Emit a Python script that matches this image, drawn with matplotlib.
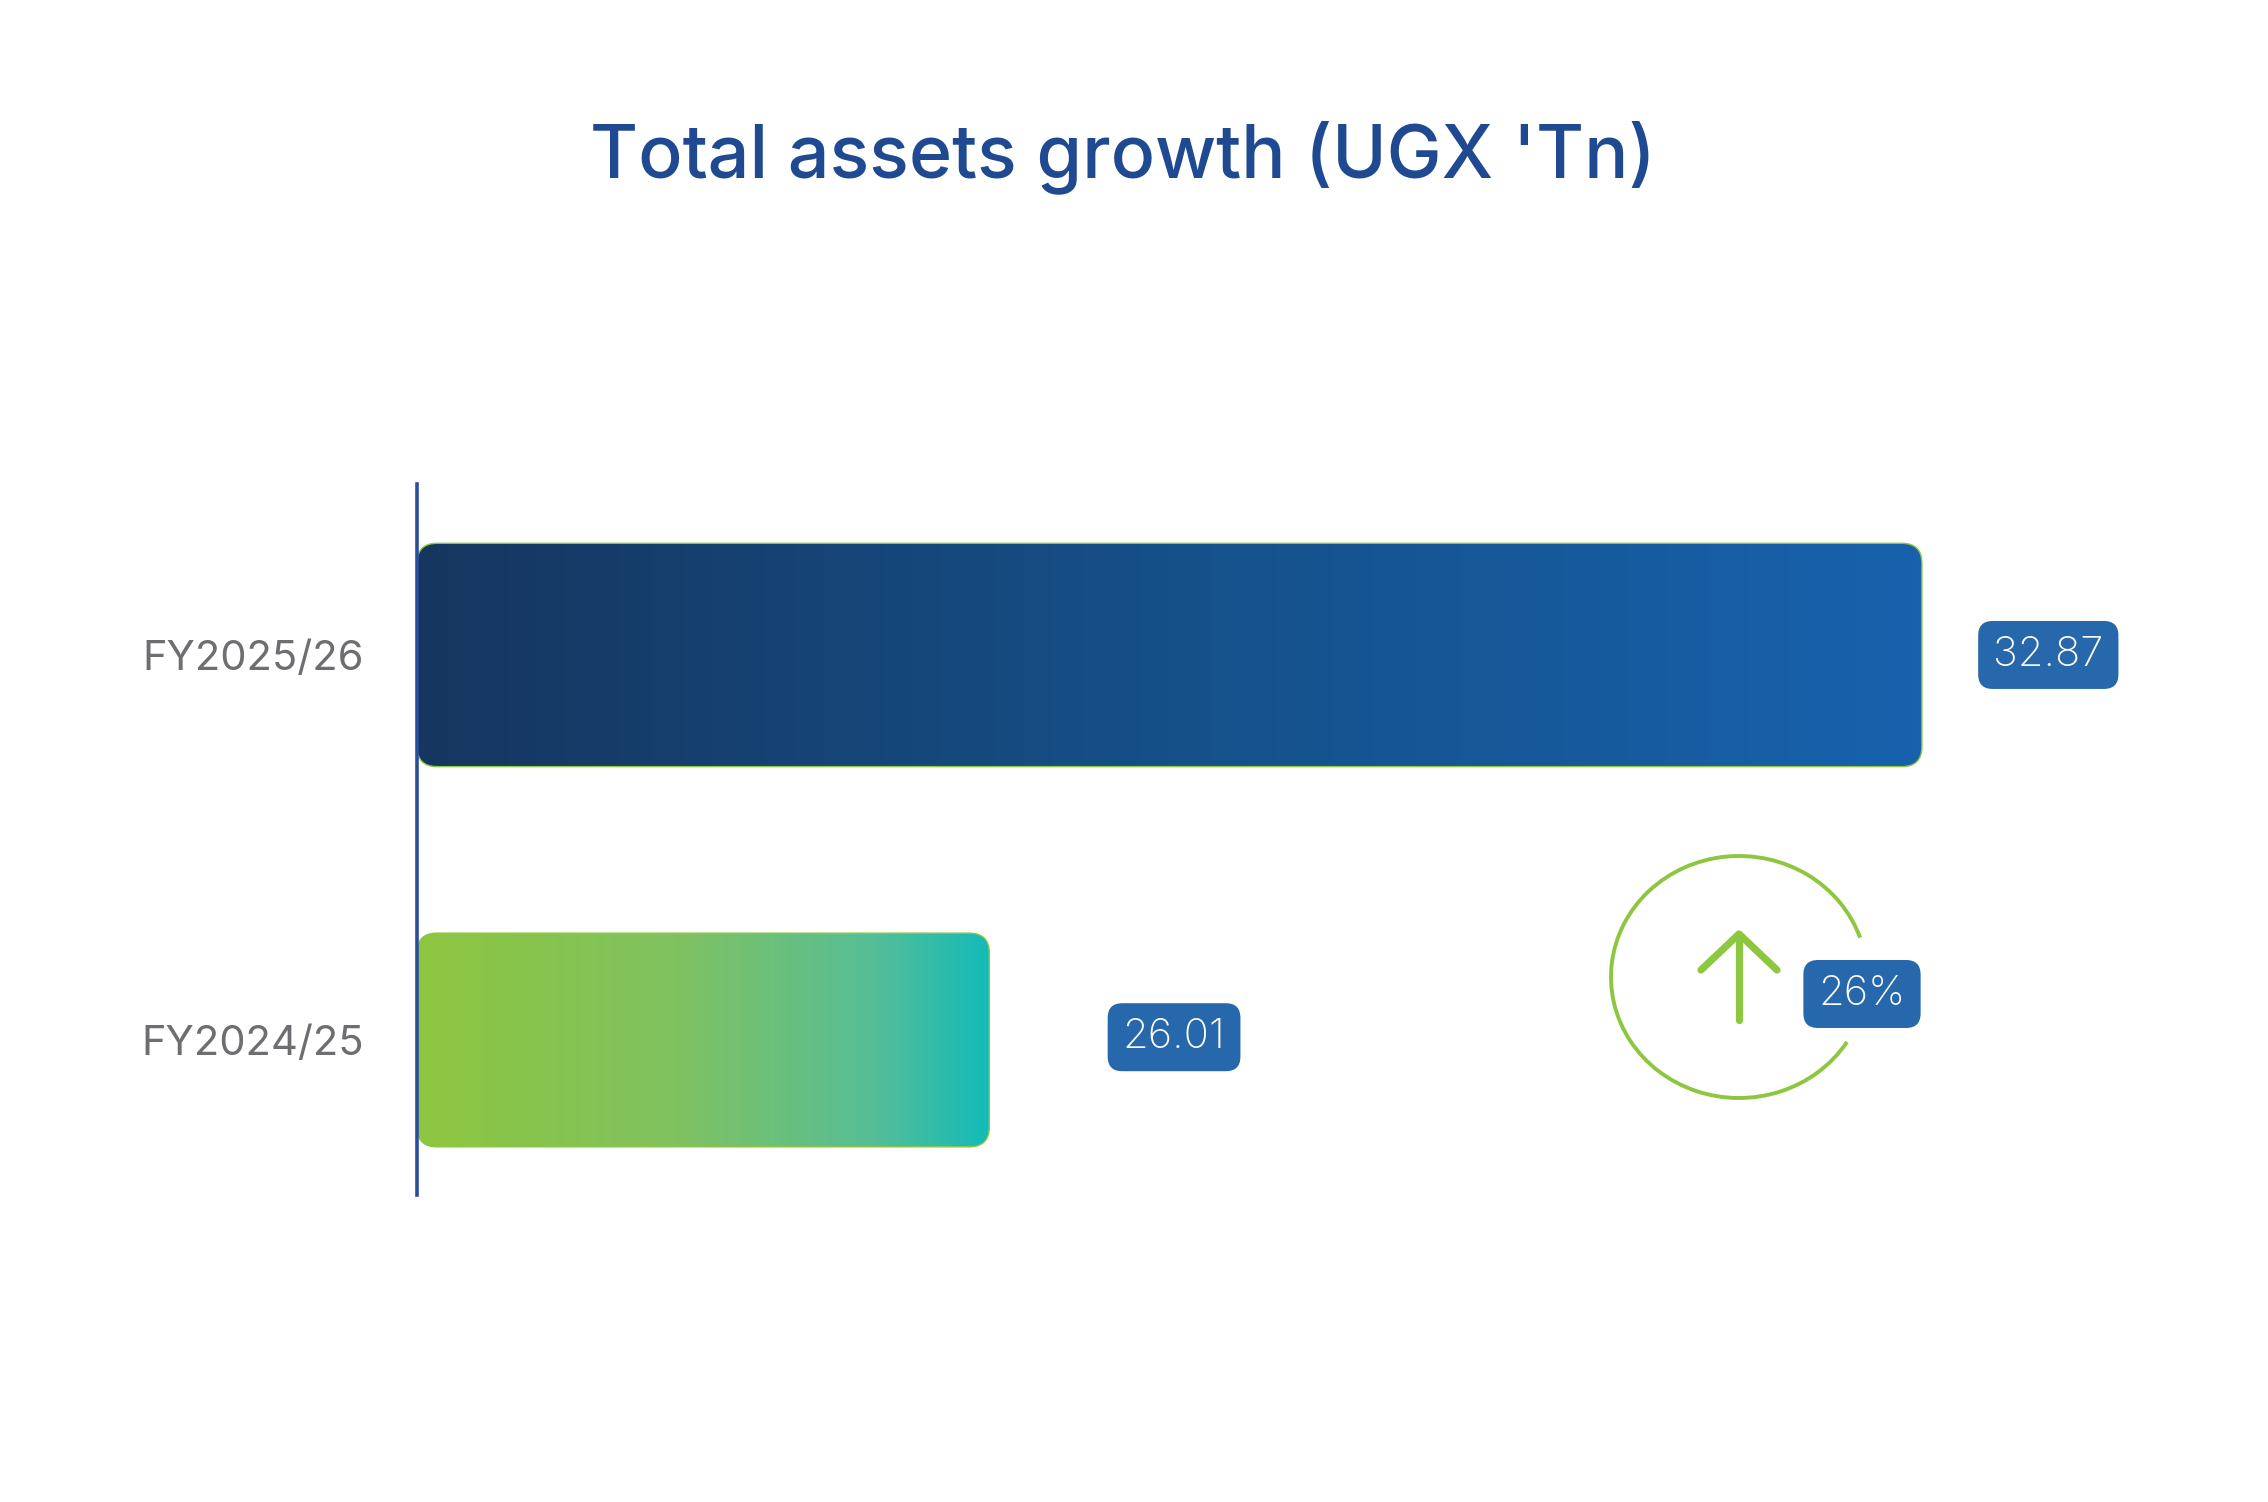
import matplotlib
matplotlib.use("Agg")
import numpy as np
import matplotlib.pyplot as plt
from matplotlib.patches import FancyBboxPatch, Arc
from matplotlib.colors import LinearSegmentedColormap

plt.rcParams['font.family'] = ['Inter', 'DejaVu Sans']

# data
years = ["FY2024/25", "FY2025/26"]
assets = [26.01, 32.87]
title = "Total assets growth (UGX 'Tn)"

growth = (assets[1] / assets[0] - 1) * 100

bar_cmaps = [
    LinearSegmentedColormap.from_list("green", [(0.0, "#8DC63F"), (0.45, "#80C260"),
                                                (0.8, "#55BE97"), (1.0, "#12BBB9")]),
    LinearSegmentedColormap.from_list("navy", [(0.0, "#16365F"), (0.5, "#155089"),
                                               (1.0, "#1862AD")]),
]
label_offsets = [(133, 2), (91, 0)]  # points from bar end

W, H = 2268, 1502
fig = plt.figure(figsize=(W / 100, H / 100), dpi=100)

ax = fig.add_axes([417 / W, 307 / H, (2100 - 417) / W, (1195 - 484) / H])
xmin, xmax = 21.80, 34.18
ymin, ymax = -0.4026, 1.444
bar_h = [0.555, 0.58]

px_x = (xmax - xmin) / (2100 - 417)
px_y = (ymax - ymin) / (1195 - 484)
aspect = px_y / px_x

badge = dict(boxstyle="round,pad=0.36,rounding_size=0.35",
             facecolor="#2767AB", edgecolor="none")

grad = np.linspace(0, 1, 256).reshape(1, -1)
for i, (yr, val) in enumerate(zip(years, assets)):
    h = bar_h[i]
    box = FancyBboxPatch((xmin, i - h / 2), val - xmin, h,
                         boxstyle=f"round,pad=0,rounding_size={20 * px_x}",
                         mutation_aspect=aspect, facecolor="none",
                         edgecolor="#8DC63F", linewidth=1.0, zorder=3)
    ax.add_patch(box)
    im = ax.imshow(grad, extent=[xmin, val, i - h / 2, i + h / 2],
                   aspect="auto", cmap=bar_cmaps[i], zorder=2,
                   interpolation="bicubic")
    im.set_clip_path(box)
    ax.annotate(f"{val:.2f}", xy=(val, i), xytext=label_offsets[i],
                textcoords="offset points", ha="center", va="center",
                fontsize=30, color="white", fontweight="light", bbox=badge)

ax.set_xlim(xmin, xmax)
ax.set_ylim(ymin, ymax)
ax.set_yticks(range(len(years)))
ax.set_yticklabels(years, fontsize=30, color="#6D6E71")
ax.tick_params(axis="y", length=0, pad=38)
ax.set_xticks([])
for side in ["top", "right", "bottom"]:
    ax.spines[side].set_visible(False)
ax.spines["left"].set_color("#2B4E9B")
ax.spines["left"].set_linewidth(2.6)
ax.spines["left"].set_zorder(4)
ax.patch.set_alpha(0)

# growth badge, drawn in pixel space
deco = fig.add_axes([0, 0, 1, 1], zorder=5)
deco.set_xlim(0, W)
deco.set_ylim(H, 0)
deco.axis("off")
deco.patch.set_alpha(0)
green = "#8DC63F"
cx, cy = 1739, 977
deco.add_patch(Arc((cx, cy), 256, 242, theta1=31, theta2=342,
                   color=green, linewidth=2.8))
deco.plot([cx, cx], [1020, 936], color=green, linewidth=5.2,
          solid_capstyle="round")
deco.plot([1701, cx, 1777], [970, 934, 970], color=green, linewidth=5.2,
          solid_capstyle="round", solid_joinstyle="round")
deco.text(1862, 994, f"{growth:.0f}%", ha="center", va="center",
          fontsize=30, color="white", fontweight="light", bbox=badge)

fig.text(1123 / W, 1 - 177 / H, title, ha="center", va="baseline",
         fontsize=53, color="#1F4A91", fontweight="medium")

fig.savefig("out.png", dpi=100, facecolor="white")
